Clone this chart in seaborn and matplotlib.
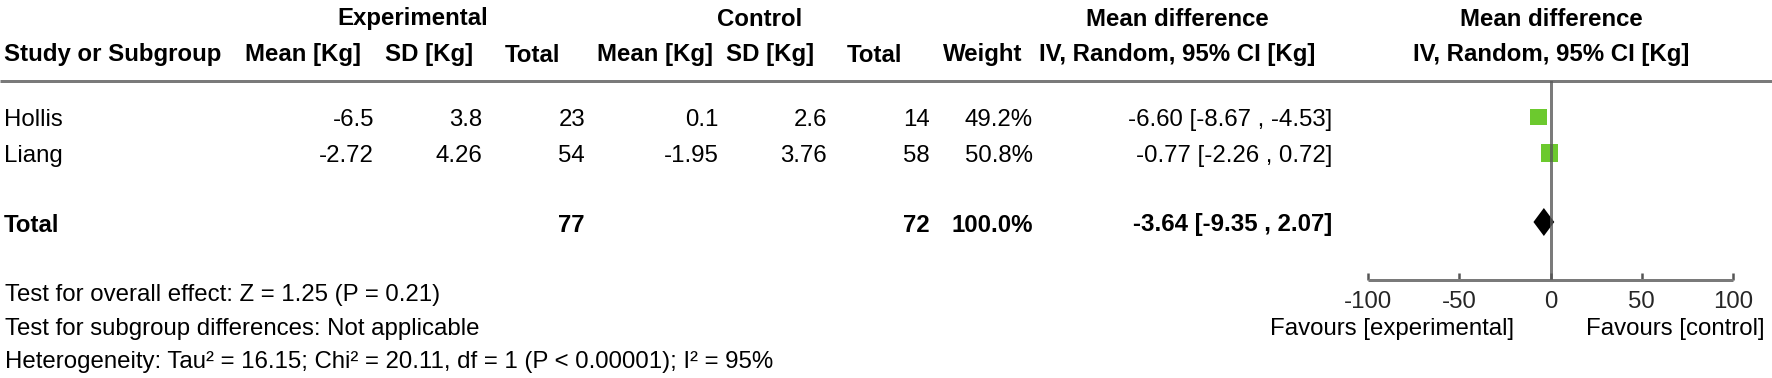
import matplotlib
matplotlib.use("Agg")
import matplotlib.pyplot as plt
import seaborn as sns
import pandas as pd

# ---------------- data ----------------
studies = ["Hollis", "Liang"]
exp_mean = [-6.5, -2.72]
exp_sd = [3.8, 4.26]
exp_total = [23, 54]
ctrl_mean = [0.1, -1.95]
ctrl_sd = [2.6, 3.76]
ctrl_total = [14, 58]
weights = [49.2, 50.8]
md = [-6.60, -0.77]
ci_low = [-8.67, -2.26]
ci_high = [-4.53, 0.72]

total_exp = 77
total_ctrl = 72
total_weight = 100.0
total_md = -3.64
total_low = -9.35
total_high = 2.07

xticks = [-100, -50, 0, 50, 100]

group_headers = ["Experimental", "Control", "Mean difference", "Mean difference"]
col_headers = ["Mean [Kg]", "SD [Kg]", "Total", "Mean [Kg]", "SD [Kg]", "Total",
               "Weight", "IV, Random, 95% CI [Kg]", "IV, Random, 95% CI [Kg]"]
footer = ["Test for overall effect: Z = 1.25 (P = 0.21)",
          "Test for subgroup differences: Not applicable",
          "Heterogeneity: Tau\u00b2 = 16.15; Chi\u00b2 = 20.11, df = 1 (P < 0.00001); I\u00b2 = 95%"]
fav_left = "Favours [experimental]"
fav_right = "Favours [control]"

# ---------------- layout (pixels) ----------------
W, H, DPI = 1772, 378, 100
FS = 24 * 72 / DPI
TXT_DY = 3
HDR1_Y, HDR2_Y, LINE_Y = 16, 52, 81
ROW_Y = [117, 153]
TOT_Y = 222
AXIS_Y = 280
FOOT_Y = [292, 326, 359]
PLOT_X0, PLOT_X1 = 1368, 1733
group_x = [413, 760, 1177, 1551]
hdr_x = [303, 429, 533, 655, 770, 875, 983, 1177, 1551]
val_right = [374, 482, 585, 719, 827, 930, 1033, 1332]
GREEN = "#6cc92e"
GRAY = "#7a7a7a"

sns.set_theme(style="white")
plt.rcParams["font.family"] = ["Liberation Sans", "DejaVu Sans"]

fig = plt.figure(figsize=(W / DPI, H / DPI), dpi=DPI)
bg = fig.add_axes([0, 0, 1, 1])
bg.set_xlim(0, W)
bg.set_ylim(H, 0)
bg.axis("off")

def txt(x, y, s, ha="left", bold=False):
    bg.text(x, y + TXT_DY, s, ha=ha, va="center", fontsize=FS,
            fontweight="bold" if bold else "normal", color="black")

for x, s in zip(group_x, group_headers):
    txt(x, HDR1_Y, s, ha="center", bold=True)
txt(4, HDR2_Y, "Study or Subgroup", bold=True)
for x, s in zip(hdr_x, col_headers):
    txt(x, HDR2_Y, s, ha="center", bold=True)

bg.plot([0, W], [LINE_Y, LINE_Y], color=GRAY, lw=3 * 72 / DPI, solid_capstyle="butt")

for i, name in enumerate(studies):
    y = ROW_Y[i]
    txt(4, y, name)
    vals = [str(exp_mean[i]), str(exp_sd[i]), str(exp_total[i]),
            str(ctrl_mean[i]), str(ctrl_sd[i]), str(ctrl_total[i]),
            f"{weights[i]:.1f}%",
            f"{md[i]:.2f} [{ci_low[i]:.2f} , {ci_high[i]:.2f}]"]
    for x, s in zip(val_right, vals):
        txt(x, y, s, ha="right")

txt(4, TOT_Y, "Total", bold=True)
txt(val_right[2], TOT_Y, str(total_exp), ha="right", bold=True)
txt(val_right[5], TOT_Y, str(total_ctrl), ha="right", bold=True)
txt(val_right[6], TOT_Y, f"{total_weight:.1f}%", ha="right", bold=True)
txt(val_right[7], TOT_Y, f"{total_md:.2f} [{total_low:.2f} , {total_high:.2f}]",
    ha="right", bold=True)

for y, s in zip(FOOT_Y, footer):
    txt(5, y, s)

# ---------------- forest panel ----------------
ax = fig.add_axes([PLOT_X0 / W, (H - AXIS_Y) / H, (PLOT_X1 - PLOT_X0) / W,
                   (AXIS_Y - LINE_Y) / H])
ax.set_facecolor("none")
ax.set_xlim(xticks[0], xticks[-1])
ax.set_ylim(AXIS_Y, LINE_Y)

df = pd.DataFrame({"md": md, "y": ROW_Y, "w": weights})
side_pt = 17 * 72 / DPI
sizes = (side_pt ** 2 * min(weights) / 50, side_pt ** 2 * max(weights) / 50)
ax.hlines(df["y"], ci_low, ci_high, color="black", lw=1, zorder=2)
sns.scatterplot(data=df, x="md", y="y", size="w", sizes=sizes, marker="s",
                color=GREEN, linewidth=0, legend=False, ax=ax, zorder=3)

half = 14
ax.fill([total_low, total_md, total_high, total_md],
        [TOT_Y, TOT_Y - half, TOT_Y, TOT_Y + half], color="black", zorder=3,
        lw=0)

ax.axvline(0, color="#5a5a5a", alpha=0.8, lw=3 * 72 / DPI, zorder=4)

for sp in ["top", "left", "right"]:
    ax.spines[sp].set_visible(False)
ax.spines["bottom"].set_color(GRAY)
ax.spines["bottom"].set_linewidth(3 * 72 / DPI)
ax.spines["bottom"].set_capstyle("butt")
ax.set_yticks([])
ax.set_xticks(xticks)
ax.set_xticklabels([str(t) for t in xticks])
ax.set_xticks([xticks[0], xticks[-1]], minor=True)
ax.tick_params(axis="x", which="major", direction="in", length=7 * 72 / DPI,
               width=2.5 * 72 / DPI, color="#555555", labelsize=FS, pad=8,
               bottom=True)
ax.tick_params(axis="x", which="minor", direction="out", length=5 * 72 / DPI,
               width=2.5 * 72 / DPI, color="#555555", bottom=True)
ax.set_xlabel("")
ax.set_ylabel("")

zero_px = PLOT_X0 + (0 - xticks[0]) / (xticks[-1] - xticks[0]) * (PLOT_X1 - PLOT_X0)
txt(zero_px - 36, 326, fav_left, ha="right")
txt(zero_px + 36, 326, fav_right, ha="left")

fig.savefig("out.png", dpi=DPI)
